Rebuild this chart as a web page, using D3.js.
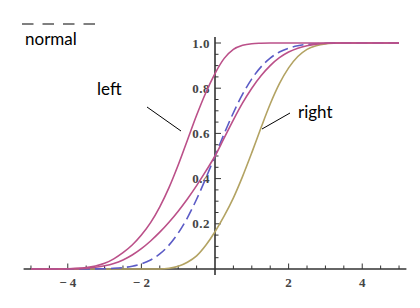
<!DOCTYPE html>
<html>
<head>
<meta charset="utf-8">
<script src="https://cdn.jsdelivr.net/npm/d3@7"></script>
<style>
  html, body { margin: 0; padding: 0; background: #ffffff; }
  svg { display: block; }
</style>
</head>
<body>
<svg id="chart" width="420" height="308"></svg>
<script>
// ---- data ----
const xs = [-5, -4.5, -4, -3.5, -3.25, -3, -2.75, -2.5, -2.25, -2, -1.75, -1.5, -1.25, -1, -0.75, -0.5, -0.25,
            0, 0.25, 0.5, 0.75, 1, 1.25, 1.5, 1.75, 2, 2.25, 2.5, 2.75, 3, 3.25, 3.5, 4, 4.5, 5];
const normalVals = [0, 0, 0, 0.0002, 0.0006, 0.0013, 0.003, 0.0062, 0.0122, 0.0228, 0.0401, 0.0668, 0.1056, 0.1587, 0.2266, 0.3085, 0.4013,
            0.5, 0.5987, 0.6915, 0.7734, 0.8413, 0.8944, 0.9332, 0.9599, 0.9772, 0.9878, 0.9938, 0.997, 0.9987, 0.9994, 0.9998, 1, 1, 1];
const leftVals = [0, 0, 0.001, 0.006, 0.013, 0.025, 0.045, 0.072, 0.106, 0.15, 0.205, 0.275, 0.36, 0.46, 0.57, 0.68, 0.78,
            0.865, 0.932, 0.972, 0.99, 0.997, 0.999, 1, 1, 1, 1, 1, 1, 1, 1, 1, 1, 1, 1];
const middleVals = [0, 0, 0.001, 0.004, 0.008, 0.014, 0.024, 0.04, 0.062, 0.09, 0.124, 0.163, 0.207, 0.256, 0.31, 0.369, 0.433,
            0.50, 0.58, 0.66, 0.735, 0.80, 0.855, 0.90, 0.935, 0.96, 0.977, 0.988, 0.995, 0.998, 1, 1, 1, 1, 1];
const rightVals = [0, 0, 0, 0, 0, 0, 0, 0, 0, 0, 0, 0, 0.003, 0.012, 0.03, 0.058, 0.105,
            0.165, 0.235, 0.315, 0.41, 0.515, 0.625, 0.73, 0.82, 0.89, 0.94, 0.972, 0.988, 0.996, 0.999, 1, 1, 1, 1];
const xTickLabels = [-4, -2, 2, 4];
const yTickLabels = [0.2, 0.4, 0.6, 0.8, 1.0];
const annotations = [
  { text: "normal", tx: 25, ty: 45 },
  { text: "left", tx: 97, ty: 95 },
  { text: "right", tx: 298, ty: 118 }
];

// ---- layout ----
const svg = d3.select("#chart");
const x = d3.scaleLinear().domain([-5.2, 5.2]).range([23.6, 406.4]);
const y = d3.scaleLinear().domain([0, 1]).range([269, 43]);

const axisColor = "#333";
const labelFont = "'Liberation Serif', 'DejaVu Serif', serif";

// x axis line
svg.append("line")
  .attr("x1", x(-5.2)).attr("x2", x(5.2))
  .attr("y1", y(0)).attr("y2", y(0))
  .attr("stroke", axisColor).attr("stroke-width", 1.6);
// y axis line
svg.append("line")
  .attr("x1", x(0)).attr("x2", x(0))
  .attr("y1", y(-0.027)).attr("y2", y(1.027))
  .attr("stroke", axisColor).attr("stroke-width", 1.6);

// x ticks (every 0.5, major at every 2)
const xTicks = d3.range(-10, 11).map(d => d / 2).filter(d => d !== 0);
svg.append("g").selectAll("line").data(xTicks).join("line")
  .attr("x1", d => x(d)).attr("x2", d => x(d))
  .attr("y1", y(0))
  .attr("y2", d => y(0) - (d % 2 === 0 ? 5.5 : 3.5))
  .attr("stroke", axisColor).attr("stroke-width", 1);

// y ticks (every 0.05, major at every 0.2)
const yTicks = d3.range(1, 21).map(d => d / 20);
svg.append("g").selectAll("line").data(yTicks).join("line")
  .attr("y1", d => y(d)).attr("y2", d => y(d))
  .attr("x1", x(0))
  .attr("x2", d => x(0) + (Math.abs(d * 5 - Math.round(d * 5)) < 1e-6 ? 6 : 3.5))
  .attr("stroke", axisColor).attr("stroke-width", 1);

// x tick labels
svg.append("g").selectAll("text").data(xTickLabels).join("text")
  .attr("x", d => x(d)).attr("y", y(0) + 18)
  .attr("text-anchor", "middle")
  .attr("font-family", labelFont).attr("font-weight", "bold").attr("font-size", 13)
  .attr("fill", "#444")
  .text(d => d < 0 ? "\u2212 " + Math.abs(d) : String(d));

// y tick labels
svg.append("g").selectAll("text").data(yTickLabels).join("text")
  .attr("x", x(0) - 5).attr("y", d => y(d) + 4.5)
  .attr("text-anchor", "end")
  .attr("font-family", labelFont).attr("font-weight", "bold").attr("font-size", 13)
  .attr("letter-spacing", 0.5)
  .attr("fill", "#444")
  .text(d => d.toFixed(1));

// ---- curves ----
const line = d3.line().x(d => x(d[0])).y(d => y(d[1])).curve(d3.curveMonotoneX);
const series = [
  { vals: rightVals, color: "#b3a363", dash: null },
  { vals: normalVals, color: "#5b5bc6", dash: "11,5" },
  { vals: middleVals, color: "#bb5089", dash: null },
  { vals: leftVals, color: "#bb5089", dash: null }
];
series.forEach(s => {
  svg.append("path")
    .datum(xs.map((v, i) => [v, s.vals[i]]))
    .attr("d", line)
    .attr("fill", "none")
    .attr("stroke", s.color)
    .attr("stroke-width", 1.6)
    .attr("stroke-dasharray", s.dash);
});

// ---- annotations ----
svg.append("g").selectAll("text").data(annotations).join("text")
  .attr("x", d => d.tx).attr("y", d => d.ty)
  .attr("font-family", "Lato, 'Noto Sans', sans-serif")
  .attr("font-size", 17)
  .attr("fill", "#000")
  .text(d => d.text);

// legend dashes above "normal"
svg.append("line")
  .attr("x1", 22).attr("x2", 98).attr("y1", 24).attr("y2", 24)
  .attr("stroke", "#000").attr("stroke-width", 1)
  .attr("stroke-dasharray", "11.5,9");

// pointer lines
svg.append("line").attr("x1", 147).attr("y1", 107).attr("x2", 181).attr("y2", 131)
  .attr("stroke", "#000").attr("stroke-width", 1);
svg.append("line").attr("x1", 290).attr("y1", 113).attr("x2", 262).attr("y2", 129)
  .attr("stroke", "#000").attr("stroke-width", 1);
</script>
</body>
</html>
